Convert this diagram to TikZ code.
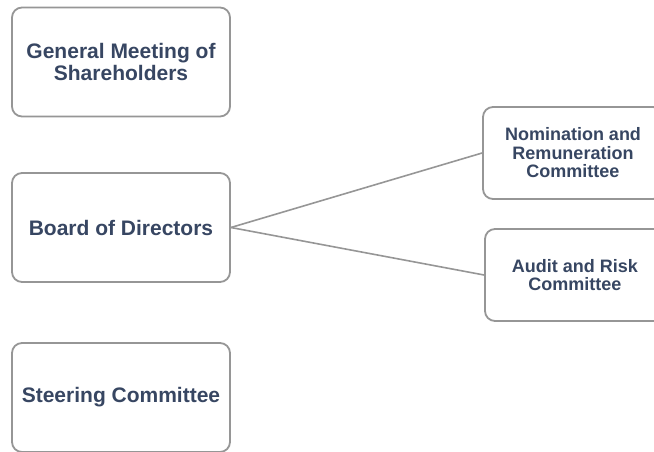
\documentclass[tikz,border=0pt]{standalone}
\usepackage{fontspec}
\setmainfont{Liberation Sans}
\usepackage{tikz}
\usetikzlibrary{positioning}
\usepackage{xcolor}
\definecolor{orgnavy}{RGB}{55,70,98}
\definecolor{orggray}{RGB}{150,150,150}

\tikzset{
  orgbox/.style={draw=orggray,line width=1.8pt,rounded corners=10pt,fill=white,
    text=orgnavy,font=\bfseries\fontsize{21}{22}\selectfont,align=center,
    minimum width=218pt,minimum height=109pt,inner sep=2pt},
  subbox/.style={orgbox,font=\bfseries\fontsize{18}{18.5}\selectfont,
    minimum width=180pt,minimum height=92pt},
  link/.style={draw=orggray,line width=1.6pt}
}

\begin{document}
\begin{tikzpicture}[x=1pt,y=-1pt]
    \useasboundingbox (0,0) rectangle (654,451);

    % Main bodies
    \node[orgbox] (gms) at (121,62) {General Meeting of\\Shareholders};
    \node[orgbox] (board) at (121,227.5) {Board of Directors};
    \node[orgbox] (steer) at (121,397.5) {Steering Committee};

    % Board committees
    \node[subbox] (nomrem) at (573,153) {Nomination and\\Remuneration\\Committee};
    \node[subbox] (audit) at (575,275) {Audit and Risk\\Committee};

    % Links
    \draw[link] (board.east) -- (nomrem.west);
    \draw[link] (board.east) -- (audit.west);
\end{tikzpicture}
\end{document}
